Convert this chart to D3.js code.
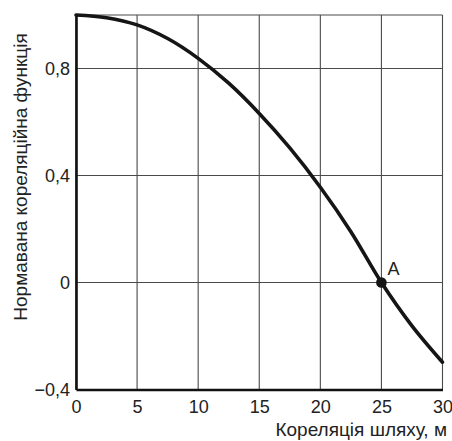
<!DOCTYPE html>
<html>
<head>
<meta charset="utf-8">
<script src="https://cdn.jsdelivr.net/npm/d3@7"></script>
<style>
    body { margin: 0; background: #fff; }
    svg { display: block; font-family: "Liberation Sans", Arial, sans-serif; }
</style>
</head>
<body>
<svg width="452" height="441"></svg>
<script>
// curve
const pathX = [0, 2.5, 5, 7.5, 10, 12.5, 15, 17.5, 20, 22.5, 25, 27.5, 30];
const corrValues = [1.0, 0.99, 0.963, 0.912, 0.838, 0.745, 0.632, 0.503, 0.356, 0.19, 0.0, -0.162, -0.298];

const xTicks = [0, 5, 10, 15, 20, 25, 30];
const yTicks = [-0.4, 0, 0.4, 0.8];
const yGrid = [-0.4, 0, 0.4, 0.8, 1.0];

const pointA = {x: 25, y: 0, label: "A"};

const xTitle = "Кореляція шляху, м";
const yTitle = "Нормавана кореляційна функція";

let svg = d3.select("svg"),
    margin = {top: 15, right: 9.5, bottom: 51.5, left: 76},
    width = +svg.attr("width") - margin.left - margin.right,
    height = +svg.attr("height") - margin.top - margin.bottom,
    g = svg.append("g").attr("transform", "translate(" + margin.left + "," + margin.top + ")");

let x = d3.scaleLinear().domain([0, 30]).range([0, width]);
let y = d3.scaleLinear().domain([-0.4, 1.0]).range([height, 0]);

const fmt = v => (v < 0 ? "\u2212" : "") + String(Math.abs(v)).replace(".", ",");

// grid
g.append("g")
    .selectAll("line")
    .data(xTicks)
    .enter().append("line")
    .attr("x1", d => x(d)).attr("x2", d => x(d))
    .attr("y1", 0).attr("y2", height)
    .attr("stroke", "#4a4a4a")
    .attr("stroke-width", 1.1);

g.append("g")
    .selectAll("line")
    .data(yGrid)
    .enter().append("line")
    .attr("x1", 0).attr("x2", width)
    .attr("y1", d => y(d)).attr("y2", d => y(d))
    .attr("stroke", "#4a4a4a")
    .attr("stroke-width", 1.1);

// axes (ticks drawn as labels only)
let xAxis = g.append("g")
    .attr("transform", "translate(0," + height + ")")
    .call(d3.axisBottom(x).tickValues(xTicks).tickSize(0).tickPadding(11).tickFormat(d => d));

let yAxis = g.append("g")
    .call(d3.axisLeft(y).tickValues(yTicks).tickSize(0).tickPadding(6).tickFormat(fmt));

[xAxis, yAxis].forEach(a => {
    a.select(".domain").attr("stroke", "#111").attr("stroke-width", 2.6);
    a.selectAll("text")
        .attr("fill", "#222")
        .style("font-size", "18px")
        .style("font-family", "'Liberation Sans', Arial, sans-serif");
});

// curve
let line = d3.line()
    .x((d, i) => x(pathX[i]))
    .y(d => y(d))
    .curve(d3.curveCatmullRom.alpha(0.5));

g.append("path")
    .datum(corrValues)
    .attr("fill", "none")
    .attr("stroke", "#151515")
    .attr("stroke-width", 3.6)
    .attr("stroke-linecap", "round")
    .attr("d", line);

g.append("circle")
    .attr("cx", x(pointA.x))
    .attr("cy", y(pointA.y))
    .attr("r", 5.3)
    .attr("fill", "#151515");

g.append("text")
    .attr("x", x(pointA.x) + 6)
    .attr("y", y(pointA.y) - 7.5)
    .attr("fill", "#222")
    .style("font-size", "18px")
    .text(pointA.label);

// titles
svg.append("text")
    .attr("x", 447)
    .attr("y", 436)
    .attr("text-anchor", "end")
    .attr("fill", "#222")
    .style("font-size", "19px")
    .text(xTitle);

svg.append("text")
    .attr("transform", "translate(27,177) rotate(-90)")
    .attr("text-anchor", "middle")
    .attr("fill", "#222")
    .style("font-size", "19px")
    .text(yTitle);
</script>
</body>
</html>
